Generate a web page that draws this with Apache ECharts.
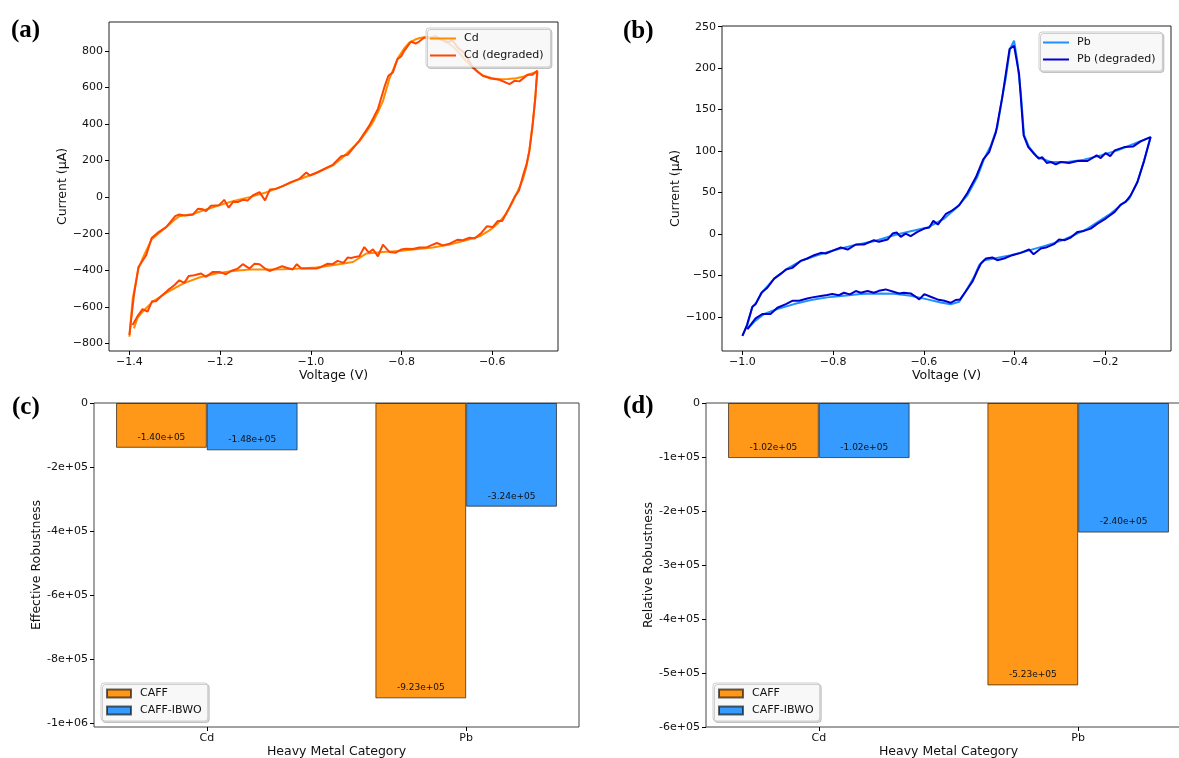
<!DOCTYPE html>
<html>
<head>
<meta charset="utf-8">
<script src="https://cdn.jsdelivr.net/npm/echarts@6/dist/echarts.min.js"></script>
<style>
  html, body { margin: 0; padding: 0; background: #fff; }
  #main { width: 1179px; height: 758px; }
</style>
</head>
<body>
<div id="main"></div>
<script>
// ---- (a) Cd cyclic voltammogram ----
const cdVolt = [-1.400, -1.393, -1.380, -1.371, -1.351, -1.334, -1.319, -1.301, -1.290, -1.260,
  -1.246, -1.209, -1.172, -1.135, -1.099, -1.062, -1.025, -0.988, -0.952, -0.933,
  -0.913, -0.893, -0.878, -0.863, -0.852, -0.841, -0.827, -0.808, -0.795, -0.783,
  -0.770, -0.760, -0.745, -0.730, -0.715, -0.700, -0.685, -0.670, -0.658, -0.646,
  -0.633, -0.621, -0.600, -0.584, -0.565, -0.547, -0.530, -0.518, -0.508, -0.500,
  -0.502, -0.505, -0.508, -0.511, -0.515, -0.518, -0.525, -0.532, -0.540, -0.555,
  -0.569, -0.588, -0.606, -0.628, -0.658, -0.694, -0.731, -0.768, -0.805, -0.841,
  -0.878, -0.907, -0.952, -0.988, -1.025, -1.062, -1.099, -1.135, -1.172, -1.209,
  -1.246, -1.282, -1.319, -1.349, -1.371, -1.382, -1.390]
const cdCurrent = [-764, -560, -390, -336, -232, -195, -165, -125, -105, -93,
  -80, -50, -22, 0, 25, 60, 98, 132, 172, 210,
  258, 305, 355, 410, 465, 525, 645, 760, 810, 845,
  862, 870, 876, 874, 866, 850, 820, 780, 745, 718,
  690, 665, 650, 645, 646, 650, 660, 672, 680, 688,
  640, 545, 470, 400, 320, 255, 164, 100, 55, -27,
  -91, -145, -182, -215, -236, -260, -276, -285, -295, -300,
  -309, -355, -373, -385, -391, -395, -396, -396, -404, -418,
  -440, -473, -524, -573, -627, -660, -718]
const cdDegVolt = [-1.400, -1.390, -1.380, -1.363, -1.351, -1.338, -1.319, -1.308, -1.299, -1.290,
  -1.279, -1.260, -1.249, -1.238, -1.231, -1.220, -1.202, -1.191, -1.181, -1.171,
  -1.161, -1.150, -1.139, -1.128, -1.113, -1.101, -1.090, -1.077, -1.062, -1.044,
  -1.025, -1.010, -1.002, -0.985, -0.966, -0.952, -0.933, -0.919, -0.893, -0.871,
  -0.852, -0.838, -0.829, -0.819, -0.809, -0.801, -0.794, -0.779, -0.769, -0.761,
  -0.750, -0.738, -0.725, -0.712, -0.700, -0.688, -0.675, -0.662, -0.652, -0.643,
  -0.632, -0.621, -0.603, -0.584, -0.562, -0.551, -0.540, -0.522, -0.511, -0.501,
  -0.505, -0.511, -0.518, -0.524, -0.531, -0.541, -0.551, -0.562, -0.578, -0.588,
  -0.599, -0.612, -0.624, -0.639, -0.650, -0.665, -0.676, -0.694, -0.709, -0.722,
  -0.735, -0.746, -0.761, -0.775, -0.790, -0.801, -0.813, -0.827, -0.841, -0.852,
  -0.863, -0.872, -0.882, -0.893, -0.902, -0.911, -0.919, -0.928, -0.941, -0.952,
  -0.963, -0.977, -0.988, -1.007, -1.021, -1.031, -1.040, -1.055, -1.063, -1.077,
  -1.091, -1.101, -1.113, -1.124, -1.135, -1.150, -1.161, -1.176, -1.187, -1.202,
  -1.216, -1.231, -1.242, -1.257, -1.269, -1.279, -1.290, -1.301, -1.315, -1.330,
  -1.341, -1.350, -1.360, -1.371, -1.382, -1.393]
const cdDegCurrent = [-753, -536, -382, -318, -224, -196, -164, -131, -104, -95,
  -100, -96, -64, -67, -76, -47, -44, -15, -58, -25,
  -27, -15, -18, 9, 27, -18, 42, 45, 60, 82,
  100, 135, 118, 136, 160, 176, 224, 231, 309, 391,
  482, 600, 664, 682, 755, 769, 800, 851, 840, 851,
  873, 868, 880, 862, 845, 858, 815, 790, 748, 709,
  684, 664, 649, 642, 618, 636, 633, 669, 669, 691,
  545, 391, 255, 182, 127, 36, 0, -55, -131, -131,
  -164, -160, -196, -227, -222, -236, -233, -255, -264, -251,
  -264, -276, -276, -284, -282, -287, -304, -300, -260, -324,
  -285, -304, -273, -324, -327, -333, -331, -360, -349, -367,
  -364, -382, -391, -391, -391, -367, -396, -385, -378, -391,
  -404, -391, -367, -364, -391, -367, -391, -404, -422, -409,
  -409, -436, -418, -427, -431, -469, -455, -482, -509, -542,
  -569, -569, -627, -613, -651, -700]
const cdVoltTicks = [-1.4, -1.2, -1.0, -0.8, -0.6]
const cdCurrentTicks = [-800, -600, -400, -200, 0, 200, 400, 600, 800]

// ---- (b) Pb cyclic voltammogram ----
const pbVolt = [-1.000, -0.989, -0.978, -0.971, -0.956, -0.930, -0.901, -0.871, -0.835, -0.798,
  -0.754, -0.710, -0.666, -0.629, -0.592, -0.555, -0.526, -0.504, -0.482, -0.467,
  -0.452, -0.438, -0.427, -0.419, -0.410, -0.401, -0.394, -0.386, -0.379, -0.368,
  -0.350, -0.320, -0.283, -0.247, -0.210, -0.173, -0.136, -0.100,
  -0.114, -0.129, -0.147, -0.166, -0.188, -0.210, -0.239, -0.269, -0.298, -0.335,
  -0.372, -0.408, -0.445, -0.467, -0.478, -0.489, -0.504, -0.522, -0.541, -0.563,
  -0.592, -0.629, -0.666, -0.702, -0.739, -0.776, -0.813, -0.849, -0.886, -0.923,
  -0.952, -0.974, -0.989]
const pbCurrent = [-123, -110, -88, -84, -70, -54, -42, -32.5, -25.7, -19.7,
  -13.6, -8.8, -1.6, 3.2, 7.6, 18.5, 32.5, 46.5, 68.6, 90.7,
  106.7, 128.8, 165, 189, 223, 233, 209, 169, 119, 105,
  92.7, 86.7, 86.7, 89.5, 94.7, 100.7, 108.8, 116.8,
  88.7, 62.6, 42.5, 34.5, 24.5, 16.5, 6.4, -1.6, -8.4, -14.8,
  -20.5, -25.7, -29.7, -31.7, -37.7, -51.8, -65.8, -81.9, -85, -82.7,
  -79, -74.6, -72.2, -71.8, -72.6, -74.6, -76.6, -79.9, -84.7, -90.7,
  -96.7, -106, -115]
const pbDegVolt = [-1.000, -0.990, -0.978, -0.971, -0.958, -0.945, -0.930, -0.915, -0.904, -0.890,
  -0.871, -0.857, -0.842, -0.827, -0.816, -0.802, -0.783, -0.768, -0.750, -0.732,
  -0.710, -0.699, -0.680, -0.669, -0.660, -0.651, -0.640, -0.629, -0.614, -0.599,
  -0.588, -0.579, -0.569, -0.552, -0.537, -0.522, -0.504, -0.485, -0.469, -0.456,
  -0.441, -0.427, -0.411, -0.401, -0.390, -0.380, -0.370, -0.357, -0.346, -0.339,
  -0.329, -0.320, -0.309, -0.298, -0.280, -0.261, -0.239, -0.219, -0.210, -0.199,
  -0.189, -0.179, -0.158, -0.138, -0.122, -0.100,
  -0.114, -0.129, -0.144, -0.155, -0.166, -0.179, -0.199, -0.217, -0.232, -0.247,
  -0.261, -0.276, -0.289, -0.302, -0.313, -0.331, -0.342, -0.358, -0.368, -0.386,
  -0.405, -0.423, -0.438, -0.449, -0.463, -0.474, -0.482, -0.493, -0.508, -0.520,
  -0.530, -0.541, -0.555, -0.570, -0.585, -0.599, -0.610, -0.620, -0.629, -0.644,
  -0.655, -0.667, -0.684, -0.699, -0.710, -0.724, -0.739, -0.750, -0.763, -0.776,
  -0.787, -0.802, -0.813, -0.827, -0.846, -0.857, -0.875, -0.890, -0.904, -0.923,
  -0.938, -0.956, -0.971, -0.989]
const pbDegCurrent = [-123, -110, -88, -85, -71, -65, -54, -48, -43, -41,
  -32.5, -29.7, -25.7, -22.9, -23.7, -20.5, -16.5, -18.9, -12.8, -12.8,
  -7.6, -9.6, -6.8, 0.4, 1.6, -3.6, 0.4, -2.8, 2.4, 6.4,
  7.6, 15.7, 11.2, 23.7, 28.5, 34.5, 49.4, 68.6, 89.9, 98.7,
  122.8, 165, 223, 227, 193, 119, 105, 96.7, 90.7, 92.7,
  85.5, 86.7, 83.9, 86.7, 85.5, 87.9, 87.9, 94.7, 91.5, 97.5,
  93.9, 100.7, 104.7, 105.5, 111.6, 116.8,
  88.7, 62.6, 46.5, 38.5, 35.3, 26.5, 18.5, 12.4, 6.4, 3.6,
  2.4, -4.4, -7.6, -6.8, -12.4, -16.5, -17.7, -24.5, -18.9, -22.9,
  -25.7, -29.7, -31.7, -28.5, -29.7, -35.7, -44.5, -57.8, -69.8, -79.1,
  -79.9, -83.1, -80.7, -79.1, -75.8, -72.6, -79.1, -75, -71.8, -71,
  -71.8, -69.8, -67, -68.7, -71, -69, -71, -69, -73, -71,
  -74, -72.6, -73.8, -75, -76.6, -77.9, -80.7, -80.7, -84.7, -89.1,
  -96.7, -96.7, -102, -115]
const pbVoltTicks = [-1.0, -0.8, -0.6, -0.4, -0.2]
const pbCurrentTicks = [-100, -50, 0, 50, 100, 150, 200, 250]

// ---- (c) / (d) robustness bars ----
const metals = ['Cd', 'Pb']
const effCaff = [-1.40e5, -9.23e5]
const effIbwo = [-1.48e5, -3.24e5]
const relCaff = [-1.02e5, -5.23e5]
const relIbwo = [-1.02e5, -2.40e5]
const effTicks = [0, -2e5, -4e5, -6e5, -8e5, -1e6]
const relTicks = [0, -1e5, -2e5, -3e5, -4e5, -5e5, -6e5]

const FONT = 'DejaVu Sans'
const BAR_W = 0.35
const chart = echarts.init(document.getElementById('main'))

const pair = (xs, ys) => xs.map((x, k) => [x, ys[k]])
const minus = s => String(s).replace('-', '\u2212')
const pad = s => s.replace(/e([+-])(\d)$/, (m, sg, d) => 'e' + sg + '0' + d)
const sci2 = v => pad(v.toExponential(2))
const sci0 = v => (v === 0 ? '0' : pad(v.toExponential()))

function valAxis(grid, min, max, ticks, fmt, name, gap, frameCol) {
  return {
    gridIndex: grid, type: 'value', min: min, max: max,
    axisLine: { show: false, onZero: false },
    splitLine: { show: false },
    axisTick: { show: true, length: 4, customValues: ticks, lineStyle: { color: frameCol } },
    axisLabel: { customValues: ticks, formatter: fmt, fontSize: 11, color: '#111', fontFamily: FONT, margin: 6 },
    name: name, nameLocation: 'middle', nameGap: gap,
    nameTextStyle: { fontSize: 12.5, color: '#111', fontFamily: FONT }
  }
}

function panelTitle(text, left, top) {
  return {
    text: text, left: left, top: top, padding: 0,
    textStyle: { fontFamily: 'Liberation Serif', fontWeight: 'bold', fontSize: 25, color: '#000' }
  }
}

function lineLegend(names, left, top) {
  return {
    data: names, left: left, top: top, orient: 'vertical',
    icon: 'rect', itemWidth: 26, itemHeight: 2, itemGap: 4,
    padding: [4, 7, 5, 4],
    backgroundColor: 'rgba(255,255,255,0.8)',
    borderColor: '#cccccc', borderWidth: 1, borderRadius: 3,
    shadowColor: 'rgba(0,0,0,0.18)', shadowOffsetX: 1.5, shadowOffsetY: 1.5,
    textStyle: { fontSize: 11, lineHeight: 13, color: '#111', fontFamily: FONT, padding: [0, 0, 0, 3] }
  }
}

function barLegend(left, top) {
  return {
    data: ['CAFF', 'CAFF-IBWO'], left: left, top: top, orient: 'vertical',
    icon: 'rect', itemWidth: 24, itemHeight: 8, itemGap: 6,
    padding: [5, 6, 5, 5],
    backgroundColor: 'rgba(255,255,255,0.8)',
    borderColor: '#cccccc', borderWidth: 1, borderRadius: 3,
    shadowColor: 'rgba(0,0,0,0.18)', shadowOffsetX: 1.5, shadowOffsetY: 1.5,
    textStyle: { fontSize: 11, color: '#111', fontFamily: FONT, padding: [0, 0, 0, 4] }
  }
}

function lineSeries(name, xs, ys, color, idx) {
  return {
    type: 'line', name: name, xAxisIndex: idx, yAxisIndex: idx,
    data: pair(xs, ys), symbol: 'none', smooth: false,
    lineStyle: { color: color, width: 2 }, itemStyle: { color: color }
  }
}

function barSeries(name, vals, shift, color, idx) {
  return {
    type: 'bar', name: name, xAxisIndex: idx, yAxisIndex: idx,
    data: vals.map((v, k) => [k + shift, v]),
    barWidth: 90.8, barGap: '-100%',
    itemStyle: { color: color, borderColor: 'rgba(0,0,0,0.6)', borderWidth: 1 },
    label: {
      show: true, position: 'insideBottom', distance: 6,
      formatter: p => sci2(p.value[1]), fontSize: 9, color: '#111', fontFamily: FONT
    }
  }
}

const metalFmt = v => metals[Math.round(v)]

function gridBox(left, top, width, height, col) {
  return {
    left: left, top: top, width: width, height: height,
    outerBoundsMode: 'none', containLabel: false,
    show: true, borderColor: col, borderWidth: 1, backgroundColor: 'transparent'
  }
}

const option = {
  animation: false,
  backgroundColor: '#fff',
  textStyle: { fontFamily: FONT },
  title: [
    panelTitle('(a)', 11, 18),
    panelTitle('(b)', 623, 19),
    panelTitle('(c)', 12, 395),
    panelTitle('(d)', 623, 394)
  ],
  legend: [
    lineLegend(['Cd', 'Cd (degraded)'], 426, 28),
    lineLegend(['Pb', 'Pb (degraded)'], 1039, 32),
    barLegend(101, 683),
    barLegend(713, 683)
  ],
  grid: [
    gridBox(109, 22, 449, 329, '#222'),
    gridBox(722, 26, 449, 325, '#222'),
    gridBox(94, 403, 485, 324, '#444'),
    gridBox(706, 403, 485, 324, '#444')
  ],
  xAxis: [
    valAxis(0, -1.445, -0.455, cdVoltTicks, v => minus(v.toFixed(1)), 'Voltage (V)', 18, '#000'),
    valAxis(1, -1.045, -0.055, pbVoltTicks, v => minus(v.toFixed(1)), 'Voltage (V)', 18, '#000'),
    valAxis(2, -0.435, 1.435, [0, 1], metalFmt, 'Heavy Metal Category', 18, '#000'),
    valAxis(3, -0.435, 1.435, [0, 1], metalFmt, 'Heavy Metal Category', 18, '#000')
  ],
  yAxis: [
    valAxis(0, -841.8, 957.8, cdCurrentTicks, v => minus(v), 'Current (\u00b5A)', 32, '#000'),
    valAxis(1, -141.3, 250.8, pbCurrentTicks, v => minus(v), 'Current (\u00b5A)', 34, '#000'),
    valAxis(2, -1.0125e6, 0, effTicks, sci0, 'Effective Robustness', 49, '#000'),
    valAxis(3, -6e5, 0, relTicks, sci0, 'Relative Robustness', 48, '#000')
  ],
  series: [
    lineSeries('Cd', cdVolt, cdCurrent, '#FF8C00', 0),
    lineSeries('Cd (degraded)', cdDegVolt, cdDegCurrent, '#FF4500', 0),
    lineSeries('Pb', pbVolt, pbCurrent, '#1E90FF', 1),
    lineSeries('Pb (degraded)', pbDegVolt, pbDegCurrent, '#0000CD', 1),
    barSeries('CAFF', effCaff, -BAR_W / 2, '#FF9719', 2),
    barSeries('CAFF-IBWO', effIbwo, BAR_W / 2, '#359BFF', 2),
    barSeries('CAFF', relCaff, -BAR_W / 2, '#FF9719', 3),
    barSeries('CAFF-IBWO', relIbwo, BAR_W / 2, '#359BFF', 3)
  ]
}

chart.setOption(option)
</script>
</body>
</html>
